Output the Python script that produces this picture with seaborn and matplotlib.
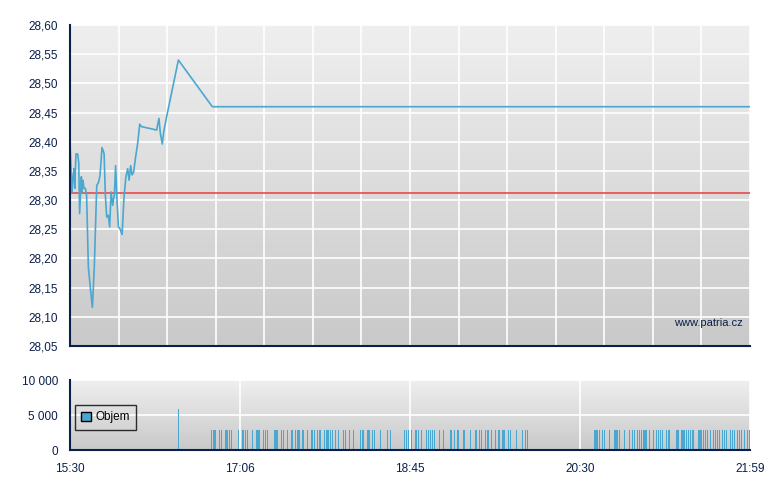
import numpy as np
import pandas as pd
import matplotlib
matplotlib.use("Agg")
import matplotlib.pyplot as plt
import matplotlib.patches as mpatches
import seaborn as sns

# minutes after 15:30 and price
price_min = [0, 1.1, 1.7, 2.3, 2.7, 3.4, 4.4, 5.0, 5.5, 6.5, 6.9, 7.4, 8.0, 8.8, 9.5,
             10.5, 11.6, 12.8, 13.9, 15.3, 16.4, 17.2, 18.3, 19.5, 20.2, 21.0, 21.9,
             22.7, 23.5, 24.4, 25.4, 26.1, 26.7, 27.7, 28.6, 29.8, 30.9, 32.0, 33.0,
             33.8, 34.7, 35.5, 36.4, 37.4, 38.7, 39.9, 40.8, 49.6, 50.2, 50.9, 51.7,
             52.8, 53.6, 55.3, 62.0, 81.4, 389]
price = [28.40, 28.314, 28.34, 28.354, 28.32, 28.379, 28.379, 28.363, 28.277, 28.34,
         28.314, 28.334, 28.32, 28.32, 28.308, 28.185, 28.151, 28.116, 28.185, 28.325,
         28.331, 28.343, 28.39, 28.38, 28.31, 28.271, 28.274, 28.254, 28.314, 28.291,
         28.31, 28.359, 28.311, 28.254, 28.251, 28.241, 28.305, 28.34, 28.354, 28.334,
         28.359, 28.343, 28.348, 28.371, 28.397, 28.43, 28.426, 28.42, 28.43, 28.44,
         28.414, 28.396, 28.417, 28.443, 28.54, 28.46, 28.46]
prev_close = 28.3125

# volume trades: minutes after 15:30
vol_min = [61.8,
           80.7, 81.8, 82.4, 83.0, 85.2, 86.4, 88.7, 89.2, 89.8, 91.0, 92.1, 96.1, 98.4,
           99.0, 100.1, 101.3, 104.1, 106.4, 107.0, 107.6, 108.1, 110.4, 111.6, 112.7,
           116.7, 117.3, 117.9, 118.4, 120.7, 121.9, 124.1, 126.4, 127.0, 128.7, 129.9,
           130.4, 131.0, 132.7, 133.3, 135.6, 137.9, 138.4, 139.6, 141.3, 142.4, 143.0,
           145.3, 146.5, 147.0, 147.6, 148.7, 149.9, 151.6, 153.3, 156.2, 157.3, 159.6,
           161.9, 165.9, 167.1, 167.6, 169.9, 170.5, 171.1, 172.8, 173.9, 177.4, 181.4,
           183.1, 191.1, 192.2, 193.4, 195.1, 197.4, 197.9, 199.1, 200.8, 203.7, 204.8,
           206.0, 207.1, 208.2, 211.1, 213.4, 217.4, 218.0, 219.7, 221.4, 222.0, 224.8,
           225.4, 228.8, 231.7, 232.3, 234.0, 235.1, 237.4, 238.6, 239.1, 240.9, 243.1,
           244.9, 245.4, 247.1, 247.7, 248.3, 250.6, 251.7, 255.2, 258.6, 260.3, 261.4,
           299.8, 300.4, 300.9, 301.5, 302.6, 304.4, 305.5, 308.4, 311.2, 311.8, 312.4,
           312.9, 314.1, 316.9, 319.8, 321.5, 322.7, 324.4, 325.5, 326.7, 327.8, 328.4,
           329.0, 329.5, 331.2, 333.5, 335.3, 336.4, 337.5, 338.7, 341.0, 342.1, 342.7,
           346.7, 347.2, 347.8, 349.5, 350.1, 350.7, 351.3, 352.4, 353.6, 354.7, 355.8,
           356.4, 359.3, 359.8, 360.4, 361.0, 362.1, 363.3, 364.4, 366.1, 367.9, 369.0,
           370.1, 371.3, 373.0, 374.2, 375.3, 377.6, 378.7, 379.9, 381.6, 382.7, 383.9,
           385.6, 387.3, 388.5]
vol = [5800] + [2850] * (len(vol_min) - 1)

time_labels = ["15:30", "17:06", "18:45", "20:30", "21:59"]
price_ticks = [28.05, 28.10, 28.15, 28.20, 28.25, 28.30, 28.35, 28.40, 28.45, 28.50, 28.55, 28.60]
vol_ticks = [0, 5000, 10000]

end_min = 389
navy = "#0b1f4b"
blue = "#4aa8d0"

sns.set_style("white")
plt.rcParams["font.family"] = ["Liberation Sans", "DejaVu Sans"]

fig = plt.figure(figsize=(7.8, 4.9), dpi=100)
ax = fig.add_axes([70 / 780, 144 / 490, 680 / 780, 321 / 490])
ax2 = fig.add_axes([70 / 780, 40 / 490, 680 / 780, 70 / 490])

grad = np.linspace(0, 1, 256).reshape(-1, 1)
cmap = matplotlib.colors.LinearSegmentedColormap.from_list("bg", ["#efefef", "#c9c9c9"])
for a in (ax, ax2):
    a.imshow(grad, aspect="auto", cmap=cmap, extent=[0, 1, 0, 1],
             transform=a.transAxes, zorder=0)
    for s in ("top", "right"):
        a.spines[s].set_visible(False)
    for s in ("left", "bottom"):
        a.spines[s].set_color(navy)
        a.spines[s].set_linewidth(1.5)
        a.spines[s].set_zorder(5)
    a.tick_params(colors=navy, labelcolor=navy, labelsize=8.5, width=1.2, length=5,
                  direction="out")
    a.set_xlim(0, end_min)

# price panel
df = pd.DataFrame({"min": price_min, "price": price})
xt_top = np.linspace(0, end_min, 15)
for x in xt_top[1:]:
    ax.axvline(x, color="white", lw=1.2, zorder=1)
for y in price_ticks[1:]:
    ax.axhline(y, color="white", lw=1.2, zorder=1)
ax.axhline(prev_close, color="#ee3b3b", lw=1.1, zorder=2)
sns.lineplot(data=df, x="min", y="price", ax=ax, color=blue, lw=1.2, zorder=3)
ax.set_ylim(28.05, 28.60)
ax.set_yticks(price_ticks)
ax.set_yticklabels([f"{v:.2f}".replace(".", ",") for v in price_ticks])
ax.set_xticks(xt_top)
ax.set_xticklabels([])
ax.tick_params(axis="x", length=6)
ax.set_xlabel("")
ax.set_ylabel("")
ax.text(0.99, 0.072, "www.patria.cz", transform=ax.transAxes, ha="right", va="center",
        color=navy, fontsize=8)

# volume panel
xt_bot = np.linspace(0, end_min, 5)
for x in xt_bot[1:]:
    ax2.axvline(x, color="white", lw=1.2, zorder=1)
ax2.axhline(5000, color="white", lw=1.2, zorder=1)
ax2.axhline(10000, color="white", lw=1.2, zorder=1)
ax2.vlines(vol_min, 0, vol, color=blue, lw=0.72, zorder=3, antialiased=False)
ax2.set_ylim(0, 10000)
ax2.set_yticks(vol_ticks)
ax2.set_yticklabels(["0", "5 000", "10 000"])
ax2.set_xticks(xt_bot)
ax2.set_xticklabels(time_labels)
ax2.tick_params(axis="x", length=6, pad=3)
handle = mpatches.Patch(facecolor=blue, edgecolor="black", label="Objem")
leg = ax2.legend(handles=[handle], loc="upper left", bbox_to_anchor=(0.007, 0.645),
                 borderaxespad=0, frameon=True, fancybox=False, edgecolor="black",
                 fontsize=8.5, handlelength=0.8, handleheight=0.8, handletextpad=0.4,
                 borderpad=0.55, labelcolor="black")
leg.get_frame().set_facecolor("none")
leg.get_frame().set_linewidth(1)

fig.savefig("out.png", dpi=100)
